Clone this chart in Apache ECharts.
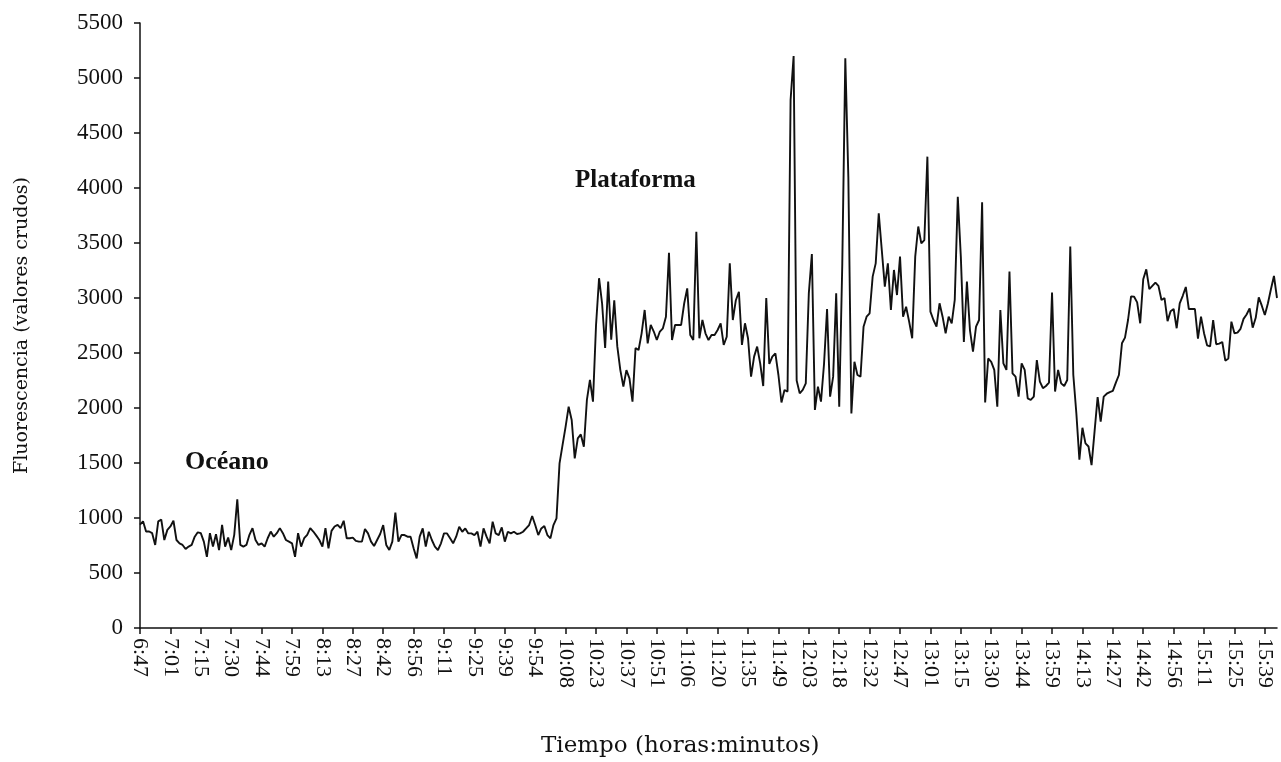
<!DOCTYPE html>
<html>
<head>
<meta charset="utf-8">
<script src="https://cdn.jsdelivr.net/npm/echarts@6/dist/echarts.min.js"></script>
<style>
  html, body { margin: 0; padding: 0; background: #fff; }
  #chart { width: 1281px; height: 762px; }
</style>
</head>
<body>
<div id="chart"></div>
<script>
// Time labels printed under the axis, one every ten samples
const tickLabels = ['6:47','7:01','7:15','7:30','7:44','7:59','8:13','8:27','8:42','8:56',
  '9:11','9:25','9:39','9:54','10:08','10:23','10:37','10:51','11:06','11:20',
  '11:35','11:49','12:03','12:18','12:32','12:47','13:01','13:15','13:30','13:44',
  '13:59','14:13','14:27','14:42','14:56','15:11','15:25','15:39'];
const samplesPerLabel = 10;

// Raw fluorescence readings along the transect
const fluorescence = [
  940, 970, 877, 877, 862, 755, 970, 985, 800, 892,
  923, 975, 800, 770, 755, 718, 740, 755, 830, 870,
  862, 785, 647, 862, 740, 853, 708, 938, 740, 822,
  708, 847, 1170, 755, 740, 755, 847, 908, 800, 755,
  770, 740, 816, 877, 830, 862, 908, 862, 800, 785,
  770, 647, 862, 740, 816, 847, 908, 877, 840, 800,
  740, 908, 724, 883, 923, 938, 908, 975, 816, 816,
  822, 792, 785, 785, 900, 860, 785, 745, 800, 855,
  936, 755, 709, 785, 1050, 785, 845, 845, 830, 830,
  725, 633, 830, 905, 740, 875, 800, 740, 709, 770,
  860, 860, 815, 770, 830, 921, 875, 905, 860, 860,
  845, 875, 740, 905, 830, 770, 966, 860, 845, 915,
  785, 875, 860, 875, 855, 860, 875, 905, 936, 1018,
  936, 845, 905, 927, 845, 815, 936, 997, 1497, 1664,
  1830, 2012, 1891, 1542, 1724, 1760, 1648, 2073, 2255, 2058,
  2750, 3180, 2950, 2545, 3150, 2620, 2980, 2560, 2345, 2195,
  2345, 2270, 2058, 2545, 2527, 2679, 2891, 2588, 2755, 2695,
  2618, 2695, 2724, 2830, 3410, 2618, 2755, 2755, 2755, 2950,
  3088, 2664, 2618, 3603, 2634, 2800, 2679, 2618, 2664, 2664,
  2709, 2770, 2573, 2648, 3315, 2800, 2980, 3057, 2573, 2770,
  2634, 2285, 2467, 2558, 2406, 2200, 3000, 2400, 2467, 2497,
  2300, 2050, 2164, 2149, 4800, 5200, 2250, 2133, 2164, 2224,
  3042, 3400, 1982, 2194, 2058, 2400, 2900, 2103, 2285, 3042,
  2012, 3300, 5180, 4100, 1950, 2420, 2300, 2285, 2739, 2830,
  2861, 3194, 3315, 3770, 3436, 3103, 3315, 2891, 3255, 3027,
  3376, 2830, 2921, 2785, 2634, 3376, 3650, 3497, 3527, 4285,
  2876, 2800, 2739, 2952, 2830, 2679, 2830, 2770, 2982, 3921,
  3376, 2600, 3150, 2709, 2512, 2739, 2800, 3870, 2050, 2450,
  2420, 2346, 2012, 2891, 2406, 2346, 3240, 2315, 2285, 2103,
  2406, 2346, 2088, 2073, 2103, 2436, 2240, 2180, 2200, 2230,
  3050, 2150, 2346, 2224, 2200, 2255, 3467, 2300, 1952, 1530,
  1820, 1679, 1650, 1480, 1790, 2100, 1876, 2103, 2130, 2145,
  2155, 2230, 2300, 2588, 2640, 2800, 3015, 3012, 2960, 2770,
  3170, 3260, 3080, 3110, 3140, 3110, 2982, 3000, 2790, 2880,
  2900, 2725, 2952, 3020, 3100, 2900, 2900, 2900, 2630, 2830,
  2680, 2570, 2560, 2800, 2580, 2585, 2600, 2430, 2450, 2785,
  2680, 2685, 2720, 2810, 2850, 2906, 2730, 2820, 3005, 2930,
  2846, 2950, 3080, 3200, 3000
];

// Zone annotations
const zoneLabels = ['Océano', 'Plataforma'];
const yTicks = { min: 0, max: 5500, step: 500 };

const serif = '"Liberation Serif", serif';
const wideSerif = '"DejaVu Serif", "Liberation Serif", serif';
const tickValues = tickLabels.map((_, k) => k * samplesPerLabel);

const chart = echarts.init(document.getElementById('chart'), null, { renderer: 'canvas' });

chart.setOption({
  animation: false,
  backgroundColor: '#ffffff',
  grid: { left: 140, right: 4, top: 23, bottom: 134, containLabel: false },
  xAxis: {
    type: 'value',
    min: 0,
    max: fluorescence.length - 1,
    interval: samplesPerLabel,
    splitLine: { show: false },
    axisLine: { show: true, onZero: false, lineStyle: { color: '#111', width: 1.5 } },
    axisTick: {
      show: true, inside: false, length: 6,
      customValues: tickValues,
      lineStyle: { color: '#111', width: 1.5 }
    },
    axisLabel: {
      show: true,
      rotate: -90,
      margin: 10,
      customValues: tickValues,
      fontFamily: serif,
      fontSize: 22,
      color: '#111',
      formatter: (v) => (v % samplesPerLabel === 0 && tickLabels[v / samplesPerLabel]) || ''
    }
  },
  yAxis: {
    type: 'value',
    min: yTicks.min,
    max: yTicks.max,
    interval: yTicks.step,
    name: 'Fluorescencia (valores crudos)',
    nameLocation: 'middle',
    nameGap: 108,
    nameRotate: 90,
    nameTextStyle: { fontFamily: wideSerif, fontSize: 19, color: '#111' },
    splitLine: { show: false },
    axisLine: { show: true, lineStyle: { color: '#111', width: 1.5 } },
    axisTick: { show: true, inside: false, length: 6, lineStyle: { color: '#111', width: 1.5 } },
    axisLabel: {
      margin: 17, fontFamily: serif, fontSize: 23, color: '#111',
      formatter: (v) => String(v)
    }
  },
  graphic: [
    {
      type: 'text', left: 541, top: 735,
      style: { text: 'Tiempo (horas:minutos)', font: '23px ' + wideSerif, fill: '#111' }
    },
    {
      type: 'text', left: 185, top: 449,
      style: { text: zoneLabels[0], font: 'bold 26px ' + serif, fill: '#111' }
    },
    {
      type: 'text', left: 575, top: 168,
      style: { text: zoneLabels[1], font: 'bold 25px ' + serif, fill: '#111' }
    }
  ],
  series: [{
    type: 'line',
    data: fluorescence.map((v, i) => [i, v]),
    showSymbol: false,
    symbol: 'none',
    lineStyle: { color: '#111', width: 1.9 },
    silent: true
  }]
});
</script>
</body>
</html>
